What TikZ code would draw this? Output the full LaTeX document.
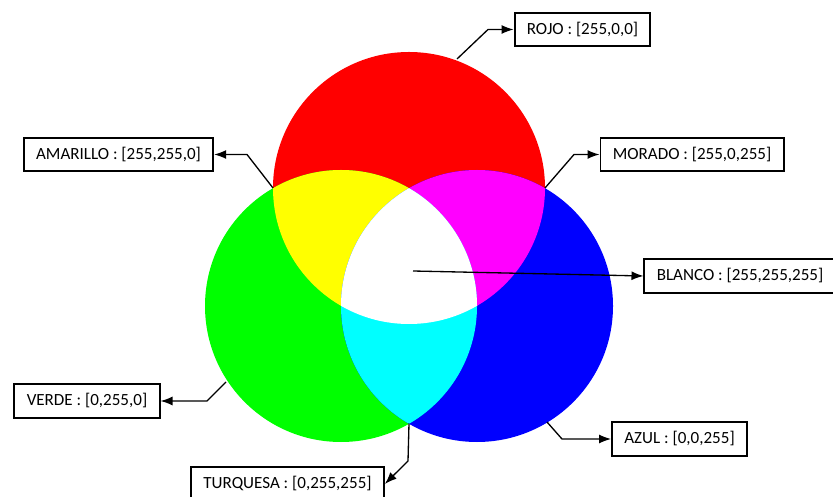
\documentclass[tikz,border=0pt]{standalone}
\usepackage{fontspec}
\setmainfont{Carlito}
\usetikzlibrary{arrows.meta}

\definecolor{rgbred}{RGB}{255,0,0}
\definecolor{rgbgreen}{RGB}{0,255,0}
\definecolor{rgbblue}{RGB}{0,0,255}
\definecolor{rgbyellow}{RGB}{255,255,0}
\definecolor{rgbmagenta}{RGB}{255,0,255}
\definecolor{rgbcyan}{RGB}{0,255,255}

\begin{document}
\begin{tikzpicture}[
  colorbox/.style={draw=black, line width=1.1pt, fill=white, inner xsep=7pt,
    minimum height=0.67cm, font=\fontsize{9.7}{11}\selectfont},
  conn/.style={line width=0.75pt, -{Latex[length=2.4mm,width=1.8mm]}}
]
  \useasboundingbox (0cm,0cm) rectangle (16.66cm,-9.94cm);
  \fill[rgbred] (8.18cm,-3.76cm) circle (2.72cm);
  \fill[rgbgreen] (6.82cm,-6.12cm) circle (2.72cm);
  \fill[rgbblue] (9.54cm,-6.12cm) circle (2.72cm);
  \begin{scope}
    \clip (8.18cm,-3.76cm) circle (2.72cm);
    \fill[rgbyellow] (6.82cm,-6.12cm) circle (2.72cm);
    \fill[rgbmagenta] (9.54cm,-6.12cm) circle (2.72cm);
  \end{scope}
  \begin{scope}
    \clip (6.82cm,-6.12cm) circle (2.72cm);
    \fill[rgbcyan] (9.54cm,-6.12cm) circle (2.72cm);
    \clip (8.18cm,-3.76cm) circle (2.72cm);
    \fill[white] (9.54cm,-6.12cm) circle (2.72cm);
  \end{scope}

  \node[colorbox] (rojo) at (11.65cm,-0.59cm) {ROJO : [255,0,0]};
  \node[colorbox] (amarillo) at (2.37cm,-3.09cm) {AMARILLO : [255,255,0]};
  \node[colorbox] (morado) at (13.84cm,-3.09cm) {MORADO : [255,0,255]};
  \node[colorbox] (blanco) at (14.8cm,-5.52cm) {BLANCO : [255,255,255]};
  \node[colorbox] (verde) at (1.74cm,-8.02cm) {VERDE : [0,255,0]};
  \node[colorbox] (azul) at (13.59cm,-8.78cm) {AZUL : [0,0,255]};
  \node[colorbox] (turquesa) at (5.75cm,-9.68cm) {TURQUESA : [0,255,255]};

  \coordinate (roA) at (9.14cm,-1.18cm);
  \coordinate (roB) at (9.76cm,-0.59cm);
  \coordinate (amA) at (5.46cm,-3.76cm);
  \coordinate (amB) at (4.94cm,-3.09cm);
  \coordinate (moA) at (10.90cm,-3.76cm);
  \coordinate (moB) at (11.48cm,-3.09cm);
  \coordinate (blA) at (8.26cm,-5.42cm);
  \coordinate (veA) at (4.52cm,-7.64cm);
  \coordinate (veB) at (4.14cm,-8.02cm);
  \coordinate (azA) at (10.94cm,-8.44cm);
  \coordinate (azB) at (11.24cm,-8.78cm);
  \coordinate (tuA) at (8.18cm,-8.47cm);
  \coordinate (tuB) at (8.16cm,-9.22cm);

  \draw[conn] (roA) -- (roB) -- (rojo.west);
  \draw[conn] (amA) -- (amB) -- (amarillo.east);
  \draw[conn] (moA) -- (moB) -- (morado.west);
  \draw[conn] (blA) -- (blanco.west);
  \draw[conn] (veA) -- (veB) -- (verde.east);
  \draw[conn] (azA) -- (azB) -- (azul.west);
  \draw[conn] (tuA) -- (tuB) -- (turquesa.east);
\end{tikzpicture}
\end{document}
